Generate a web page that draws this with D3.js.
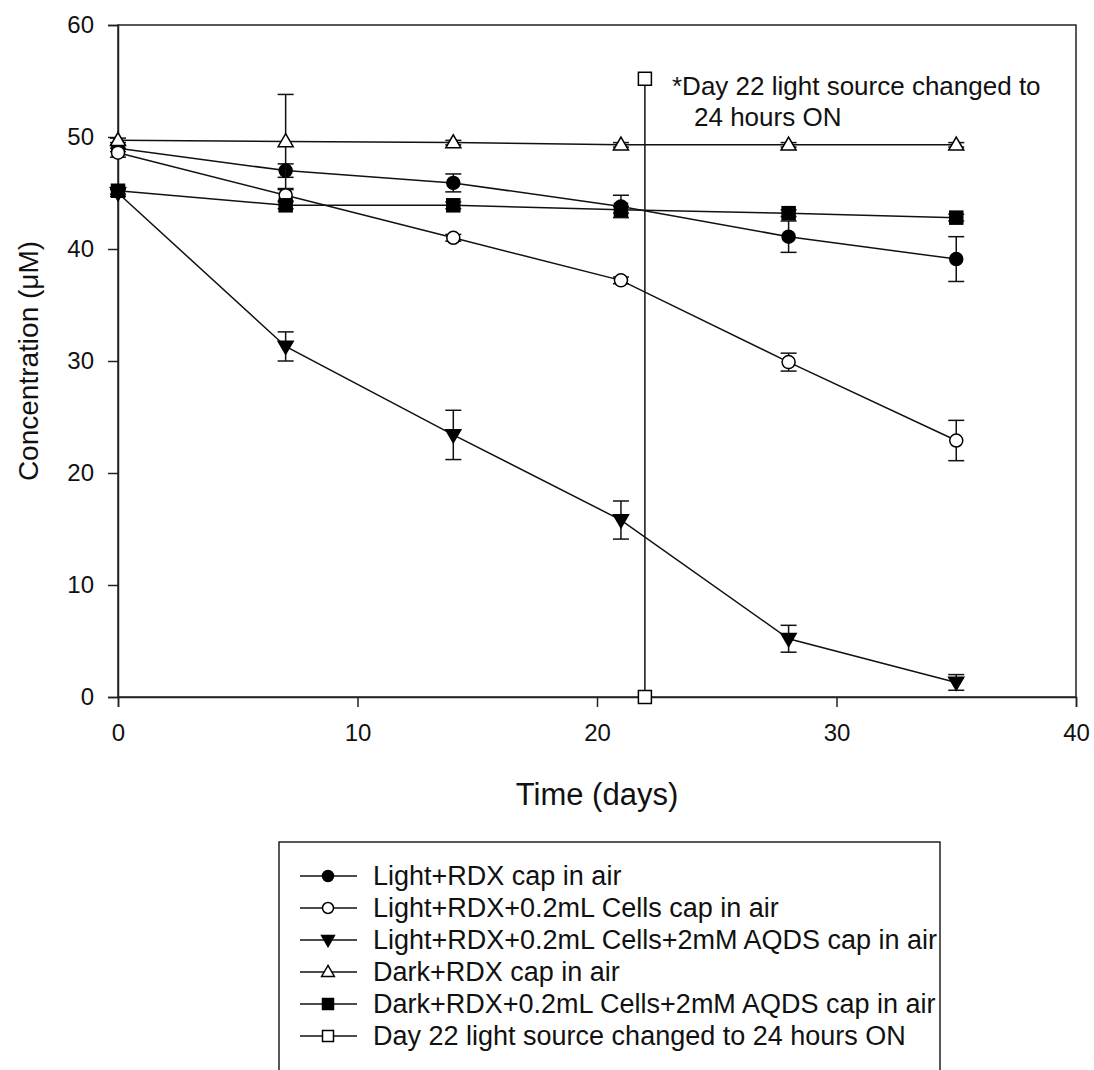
<!DOCTYPE html>
<html>
<head>
<meta charset="utf-8">
<script src="https://cdn.jsdelivr.net/npm/d3@7"></script>
<style>
  body { margin: 0; background: #fff; }
  text { font-family: "Liberation Sans", Arial, sans-serif; fill: #111; }
</style>
</head>
<body>
<div id="root"></div>
<script>
// data
var days = [0, 7, 14, 21, 28, 35];
var lightRdx = [49.0, 47.0, 45.9, 43.8, 41.1, 39.1];
var lightRdxErr = [0.3, 0.6, 0.8, 1.0, 1.4, 2.0];
var lightCells = [48.6, 44.8, 41.0, 37.2, 29.9, 22.9];
var lightCellsErr = [0.4, 0.5, 0.3, 0.3, 0.8, 1.8];
var lightAqds = [45.0, 31.3, 23.4, 15.8, 5.2, 1.3];
var lightAqdsErr = [0.3, 1.3, 2.2, 1.7, 1.2, 0.7];
var darkRdx = [49.7, 49.6, 49.5, 49.3, 49.3, 49.3];
var darkRdxErr = [0.2, 4.2, 0.2, 0.2, 0.2, 0.2];
var darkAqds = [45.2, 43.9, 43.9, 43.5, 43.2, 42.8];
var darkAqdsErr = [0.3, 0.3, 0.3, 0.3, 0.3, 0.3];
var switchDays = [22, 22];
var switchVals = [55.2, 0];
var xTicks = [0, 10, 20, 30, 40];
var yTicks = [0, 10, 20, 30, 40, 50, 60];

var width = 1094, height = 1070;
var x = d3.scaleLinear().domain([0, 40]).range([118, 1076]);
var y = d3.scaleLinear().domain([0, 60]).range([697, 25]);

var series = [
  { name: "Light+RDX cap in air", xs: days, ys: lightRdx, err: lightRdxErr, shape: "circle", fill: "#000" },
  { name: "Light+RDX+0.2mL Cells cap in air", xs: days, ys: lightCells, err: lightCellsErr, shape: "circle", fill: "#fff" },
  { name: "Light+RDX+0.2mL Cells+2mM AQDS cap in air", xs: days, ys: lightAqds, err: lightAqdsErr, shape: "tridown", fill: "#000" },
  { name: "Dark+RDX cap in air", xs: days, ys: darkRdx, err: darkRdxErr, shape: "triup", fill: "#fff" },
  { name: "Dark+RDX+0.2mL Cells+2mM AQDS cap in air", xs: days, ys: darkAqds, err: darkAqdsErr, shape: "square", fill: "#000" },
  { name: "Day 22 light source changed to 24 hours ON", xs: switchDays, ys: switchVals, err: null, shape: "square", fill: "#fff" }
];

var svg = d3.select("#root").append("svg")
  .attr("width", width).attr("height", height);

// plot frame
svg.append("rect")
  .attr("x", x(0)).attr("y", y(60))
  .attr("width", x(40) - x(0)).attr("height", y(0) - y(60))
  .attr("fill", "none").attr("stroke", "#222").attr("stroke-width", 1.5);

var xAxis = svg.append("g")
  .attr("transform", "translate(0," + y(0) + ")")
  .call(d3.axisBottom(x).tickValues(xTicks).tickSize(10).tickPadding(17));
var yAxis = svg.append("g")
  .attr("transform", "translate(" + x(0) + ",0)")
  .call(d3.axisLeft(y).tickValues(yTicks).tickSize(10).tickPadding(14));
[xAxis, yAxis].forEach(function (a) {
  a.select(".domain").attr("stroke", "#222").attr("stroke-width", 1.5);
  a.selectAll(".tick line").attr("stroke", "#222").attr("stroke-width", 1.5);
  a.selectAll(".tick text").style("font-size", "24px")
    .style("font-family", "'Liberation Sans', Arial, sans-serif").attr("fill", "#111");
});

svg.append("text")
  .attr("x", x(20)).attr("y", 805)
  .attr("text-anchor", "middle").style("font-size", "31px")
  .text("Time (days)");
svg.append("text")
  .attr("transform", "translate(38," + y(30) + ") rotate(-90)")
  .attr("text-anchor", "middle").style("font-size", "28px")
  .text("Concentration (\u03bcM)");

function marker(sel, shape, fill, s) {
  if (shape === "circle") {
    sel.append("circle").attr("r", s * 0.5);
  } else if (shape === "square") {
    sel.append("rect").attr("x", -s * 0.5).attr("y", -s * 0.5).attr("width", s).attr("height", s);
  } else if (shape === "triup") {
    sel.append("path").attr("d", "M0," + (-s * 0.6) + "L" + (s * 0.58) + "," + (s * 0.4) + "L" + (-s * 0.58) + "," + (s * 0.4) + "Z");
  } else {
    sel.append("path").attr("d", "M0," + (s * 0.6) + "L" + (s * 0.58) + "," + (-s * 0.4) + "L" + (-s * 0.58) + "," + (-s * 0.4) + "Z");
  }
  sel.selectAll("*").attr("fill", fill).attr("stroke", "#000").attr("stroke-width", 1.5);
}

var line = d3.line().x(function (d) { return x(d[0]); }).y(function (d) { return y(d[1]); });

series.forEach(function (s) {
  var pts = s.xs.map(function (d, i) { return [d, s.ys[i], s.err ? s.err[i] : 0]; });
  var g = svg.append("g");
  g.append("path").datum(pts).attr("d", line)
    .attr("fill", "none").attr("stroke", "#111").attr("stroke-width", 1.5);
  if (s.err) {
    var eb = g.selectAll(".eb").data(pts).enter().append("g");
    eb.append("line")
      .attr("x1", function (d) { return x(d[0]); }).attr("x2", function (d) { return x(d[0]); })
      .attr("y1", function (d) { return y(d[1] + d[2]); }).attr("y2", function (d) { return y(d[1] - d[2]); });
    eb.append("line")
      .attr("x1", function (d) { return x(d[0]) - 8; }).attr("x2", function (d) { return x(d[0]) + 8; })
      .attr("y1", function (d) { return y(d[1] + d[2]); }).attr("y2", function (d) { return y(d[1] + d[2]); });
    eb.append("line")
      .attr("x1", function (d) { return x(d[0]) - 8; }).attr("x2", function (d) { return x(d[0]) + 8; })
      .attr("y1", function (d) { return y(d[1] - d[2]); }).attr("y2", function (d) { return y(d[1] - d[2]); });
    eb.selectAll("line").attr("stroke", "#111").attr("stroke-width", 1.5);
  }
  g.selectAll(".m").data(pts).enter().append("g")
    .attr("transform", function (d) { return "translate(" + x(d[0]) + "," + y(d[1]) + ")"; })
    .each(function () { marker(d3.select(this), s.shape, s.fill, 13); });
});

// annotation
var note = svg.append("text").attr("x", 672).attr("y", 95).style("font-size", "26px");
note.append("tspan").attr("x", 672).text("*Day 22 light source changed to");
note.append("tspan").attr("x", 694).attr("dy", 31).text("24 hours ON");

// legend
var lg = svg.append("g");
lg.append("rect").attr("x", 279).attr("y", 842).attr("width", 661).attr("height", 240)
  .attr("fill", "#fff").attr("stroke", "#222").attr("stroke-width", 1.5);
series.forEach(function (s, i) {
  var yy = 876 + i * 32;
  var row = lg.append("g");
  row.append("line").attr("x1", 300).attr("x2", 357).attr("y1", yy).attr("y2", yy)
    .attr("stroke", "#111").attr("stroke-width", 1.5);
  var m = row.append("g").attr("transform", "translate(328," + yy + ")");
  marker(m, s.shape, s.fill, 11);
  row.append("text").attr("x", 373).attr("y", yy + 9).style("font-size", "27px").text(s.name);
});
</script>
</body>
</html>
